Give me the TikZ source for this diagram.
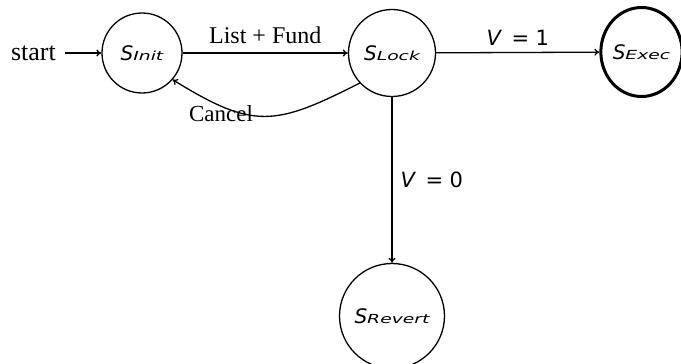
\documentclass[tikz,border=0pt]{standalone}
\usepackage{fontspec}
\usepackage{graphicx}
\setmainfont{Liberation Serif}
\newfontfamily\statefont{DejaVu Sans}
\usetikzlibrary{arrows.meta,shapes.geometric}

% state name: italic S with a widened subscript
\newcommand{\stname}[1]{{\statefont\itshape\fontsize{20}{20}\selectfont S\scalebox{1.5}[1]{\fontsize{12.5}{12.5}\selectfont #1}}}
% guard label V = n
\newcommand{\vlabel}[1]{{\statefont\fontsize{21}{21}\selectfont\textit{V}\hspace{0.45em}=\hspace{0.3em}#1}}

\begin{document}
\begin{tikzpicture}[x=1pt,y=-1pt,
  state/.style={circle,draw,line width=1.3pt,inner sep=0pt},
  edge/.style={line width=1.3pt,-{To[length=5pt,width=7pt]}},
  lbl/.style={font=\fontsize{24}{24}\selectfont}]
\useasboundingbox (0,0) rectangle (681,364);

\node[state,minimum size=80pt] (init) at (142,53) {\stname{Init}};
\node[state,minimum size=87pt] (lock) at (392,53) {\stname{Lock}};
\node[ellipse,draw,line width=3pt,minimum width=75pt,minimum height=89pt,inner sep=0pt] (exec) at (641.5,52) {\stname{Exec}};
\node[state,minimum size=105pt] (revert) at (392,316) {\stname{Revert}};

\node[font=\fontsize{26}{26}\selectfont,anchor=east,inner sep=9pt] (start) at (65,53) {start};
\draw[edge] (start) -- (init);

\draw[edge] (init) -- node[lbl,above,inner sep=9pt] (lf) {List + Fund} (lock);
\draw[edge] (lock) -- node[above,inner sep=6pt] (v1) {\vlabel{1}} (exec);
\draw[edge] (lock) -- node[right,inner sep=8pt] (v0) {\vlabel{0}} (revert);

\draw[edge] (lock.-137) .. controls (275,126) and (254,130) .. (init.-41);
\node[font=\fontsize{23}{23}\selectfont,inner sep=0pt] (cancel) at (221,114) {Cancel};
\end{tikzpicture}
\end{document}
